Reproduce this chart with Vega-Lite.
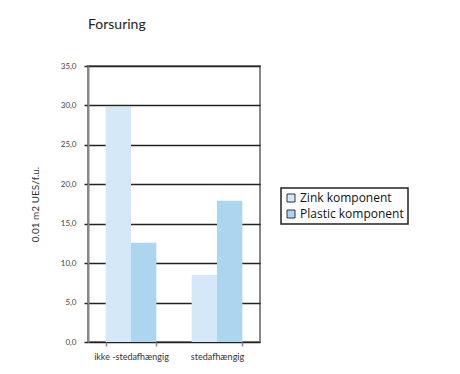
{
  "$schema": "https://vega.github.io/schema/vega-lite/v6.json",
  "autosize": "none",
  "padding": {"left": 88, "top": 66, "right": 200, "bottom": 32},
  "width": 172,
  "height": 276,
  "background": "white",
  "title": {
    "text": "Forsuring",
    "anchor": "start",
    "frame": "group",
    "offset": 30,
    "fontSize": 14,
    "fontWeight": "normal",
    "font": "Lato",
    "color": "#222"
  },
  "data": {
    "values": [
      {"kategori": "ikke -stedafhængig", "komponent": "Zink komponent", "vaerdi": 29.8},
      {"kategori": "ikke -stedafhængig", "komponent": "Plastic komponent", "vaerdi": 12.6},
      {"kategori": "stedafhængig", "komponent": "Zink komponent", "vaerdi": 8.5},
      {"kategori": "stedafhængig", "komponent": "Plastic komponent", "vaerdi": 17.9}
    ]
  },
  "mark": {"type": "bar"},
  "encoding": {
    "x": {
      "field": "kategori",
      "type": "nominal",
      "sort": ["ikke -stedafhængig", "stedafhængig"],
      "scale": {"paddingInner": 0.41, "paddingOuter": 0.205},
      "axis": {
        "title": null,
        "labelAngle": 0,
        "tickBand": "extent",
        "domain": false,
        "grid": false,
        "tickColor": "#888",
        "tickWidth": 1.5,
        "tickSize": 4,
        "labelPadding": 6,
        "labelFont": "Lato",
        "labelFontSize": 9,
        "labelColor": "#333"
      }
    },
    "xOffset": {
      "field": "komponent",
      "type": "nominal",
      "sort": ["Zink komponent", "Plastic komponent"],
      "scale": {"paddingInner": 0, "paddingOuter": 0}
    },
    "y": {
      "field": "vaerdi",
      "type": "quantitative",
      "scale": {"domain": [0, 35], "nice": false},
      "axis": {
        "title": "0.01 m2 UES/f.u.",
        "titleFont": "Lato",
        "titleFontSize": 10,
        "titleFontWeight": "normal",
        "titleColor": "#333",
        "titlePadding": 20,
        "values": [0, 5, 10, 15, 20, 25, 30, 35],
        "labelExpr": "replace(format(datum.value, '.1f'), '.', ',')",
        "labelFont": "Lato",
        "labelFontSize": 8,
        "labelColor": "#444",
        "labelPadding": 8,
        "tickSize": 4,
        "tickColor": "#222",
        "tickWidth": 1.5,
        "domainColor": "#888",
        "domainWidth": 2,
        "grid": true,
        "gridColor": "#222",
        "gridWidth": 1.5
      }
    },
    "color": {
      "field": "komponent",
      "type": "nominal",
      "sort": ["Zink komponent", "Plastic komponent"],
      "scale": {
        "domain": ["Zink komponent", "Plastic komponent"],
        "range": ["#d4e8f7", "#acd6f0"]
      },
      "legend": {
        "title": null,
        "orient": "none",
        "legendX": 193,
        "legendY": 122,
        "symbolType": "square",
        "symbolSize": 64,
        "symbolStrokeColor": "#333",
        "symbolStrokeWidth": 1,
        "labelFont": "Open Sans",
        "labelFontSize": 12,
        "labelColor": "#111",
        "strokeColor": "#222",
        "padding": 4,
        "rowPadding": 4,
        "labelOffset": 3
      }
    }
  },
  "config": {
    "view": {"stroke": "#888", "strokeWidth": 2},
    "legend": {"strokeWidth": 1.5}
  }
}
